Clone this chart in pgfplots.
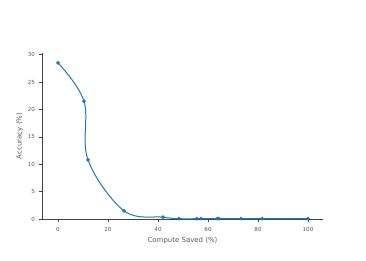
\documentclass[border=0pt]{standalone}
\usepackage{pgfplots}
\pgfplotsset{compat=1.18}
\usepackage{fontspec}
\setmainfont{DejaVu Sans}
\definecolor{pblue}{HTML}{1F77B4}
\definecolor{txt}{HTML}{5A5A5A}
\definecolor{axc}{HTML}{444444}
\begin{document}
\begin{tikzpicture}[x=1bp,y=1bp]
\path[use as bounding box] (0,0) rectangle (366,261);
\begin{axis}[
  at={(42bp,42bp)}, anchor=south west,
  scale only axis, width=281bp, height=166bp,
  xmin=-6.4, xmax=106, ymin=0, ymax=30.3,
  axis x line*=bottom, axis y line*=left,
  axis line style={axc, line width=0.8pt, -},
  xtick={0,20,40,60,80,100}, ytick={0,5,10,15,20,25,30},
  tick style={axc, line width=0.6pt},
  major tick length=3bp,
  tick align=outside,
  tick label style={font=\fontsize{5.6}{6}\selectfont, text=txt},
  /pgf/number format/assume math mode=true,
  xticklabel style={yshift=-2bp},
  yticklabel style={xshift=-0.5bp},
  label style={font=\fontsize{7}{8}\selectfont, text=txt},
  xlabel={Compute Saved (\%)}, ylabel={Accuracy (\%)},
  xlabel style={yshift=1bp},
  ylabel style={yshift=-2bp},
  clip=false,
]
\addplot[pblue, line width=1pt, smooth, tension=0.6, mark=*, mark size=1.3pt, mark options={pblue}] coordinates {
(0,28.5) (10.4,21.5) (12,10.8) (26.4,1.5) (42,0.33) (48.4,0.06) (55.5,0.05) (57.2,0.05) (63.7,0.05) (64.4,0.05) (73.2,0.05) (81.7,0.08) (100,0.05)
};
\end{axis}
\end{tikzpicture}
\end{document}
